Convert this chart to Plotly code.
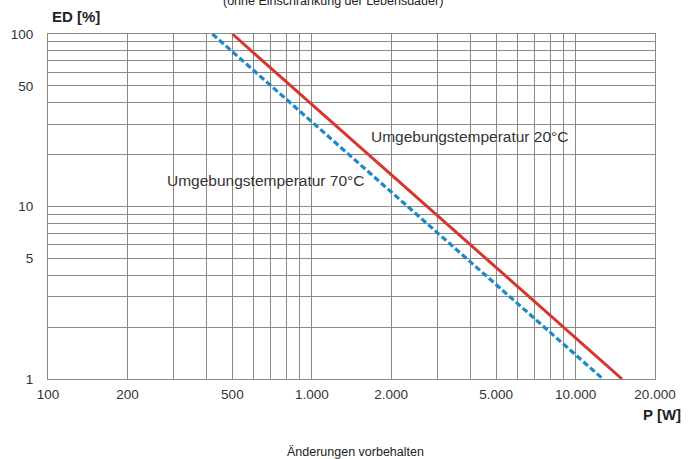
import math
import plotly.graph_objects as go

# Data
p_20 = [500, 15000]          # P [W], ambient 20°C
ed_20 = [100, 1]             # ED [%]
p_70 = [420, 12700]          # P [W], ambient 70°C
ed_70 = [100, 1]

x_grid = [100, 200, 300, 400, 500, 600, 700, 800, 900,
          1000, 2000, 3000, 4000, 5000, 6000, 7000, 8000, 9000, 10000, 20000]
x_labels = {100: "100", 200: "200", 500: "500", 1000: "1.000", 2000: "2.000",
            5000: "5.000", 10000: "10.000", 20000: "20.000"}
y_grid = [1, 2, 3, 4, 5, 6, 7, 8, 9, 10, 20, 30, 40, 50, 60, 70, 80, 90, 100]
y_labels = {1: "1", 5: "5", 10: "10", 50: "50", 100: "100"}

FONT = "Liberation Sans, Arial, sans-serif"
GRID = "#8a8a8a"

fig = go.Figure()
fig.add_trace(go.Scatter(x=p_20, y=ed_20, mode="lines",
                         line=dict(color="#d8362c", width=3), showlegend=False))
fig.add_trace(go.Scatter(x=p_70, y=ed_70, mode="lines",
                         line=dict(color="#1c88c9", width=3.2, dash="6px,3px"),
                         showlegend=False))

fig.update_layout(
    width=696, height=459,
    margin=dict(l=48, r=41, t=34, b=80),
    paper_bgcolor="white", plot_bgcolor="white",
    font=dict(family=FONT, size=13, color="#333333"),
    xaxis=dict(type="log", range=[2, math.log10(20000)],
               tickvals=x_grid, ticktext=[x_labels.get(v, "") for v in x_grid],
               showgrid=True, gridcolor=GRID, gridwidth=1,
               showline=True, linecolor=GRID, linewidth=1, mirror=True,
               ticks="", zeroline=False, ticklabelstandoff=3,
               tickfont=dict(size=13.5, color="#333333")),
    yaxis=dict(type="log", range=[0, 2],
               tickvals=y_grid, ticktext=[y_labels.get(v, "") for v in y_grid],
               showgrid=True, gridcolor=GRID, gridwidth=1,
               showline=True, linecolor=GRID, linewidth=1, mirror=True,
               ticks="", zeroline=False, ticklabelstandoff=11,
               tickfont=dict(size=13.5, color="#333333")),
)

final = [
    dict(text="Umgebungstemperatur 20°C", x=math.log10(1648), y=math.log10(25.3),
         xref="x", yref="y", xanchor="left", yanchor="middle", showarrow=False,
         font=dict(size=15.5, color="#333333")),
    dict(text="Umgebungstemperatur 70°C", x=math.log10(278), y=math.log10(14.2),
         xref="x", yref="y", xanchor="left", yanchor="middle", showarrow=False,
         font=dict(size=15.5, color="#333333")),
]

# pixel-positioned texts converted to paper coords
px_l, px_r, py_t, py_b = 48, 655, 34, 379
pix = [("<b>ED [%]</b>", 50, 17, "left", 15),
       ("<b>P [W]</b>", 683, 414, "right", 15),
       ("Änderungen vorbehalten", 355, 452, "center", 12.5),
       ("(ohne Einschränkung der Lebensdauer)", 333, 1, "center", 12.5)]
for text, px, py, xa, sz in pix:
    final.append(dict(text=text, xref="paper", yref="paper",
                      x=(px - px_l) / (px_r - px_l), y=(py_b - py) / (py_b - py_t),
                      xanchor=xa, yanchor="middle", showarrow=False,
                      font=dict(size=sz, color="#222222")))
fig.update_layout(annotations=final)

fig.write_html("out.html", config={"displayModeBar": False},
               post_script="document.body.style.margin='0';document.body.style.overflow='hidden';")
